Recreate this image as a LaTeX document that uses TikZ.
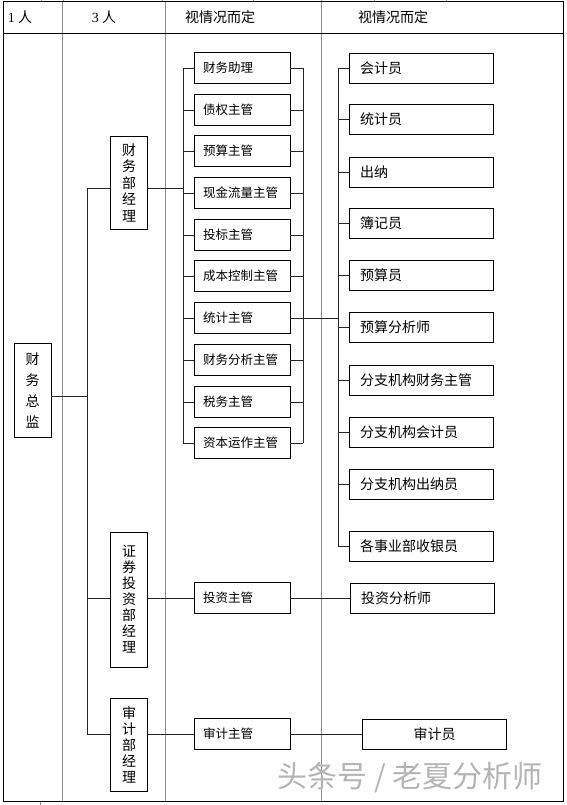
\documentclass[tikz,border=0pt]{standalone}
\usepackage{fontspec}
\setmainfont{Noto Sans CJK SC}
\newfontfamily\numfont{Liberation Serif}
\usepackage{xcolor}
\definecolor{rule}{HTML}{8C8C8C}
\definecolor{wmgray}{HTML}{B4B4B4}

\begin{document}
\begin{tikzpicture}[x=1pt, y=-1pt,
  mgr/.style={draw, line width=0.9pt, fill=white, minimum width=37pt, inner sep=0pt, align=center, font=\fontsize{14}{#1}\selectfont},
  midbox/.style={draw, line width=0.9pt, fill=white, text width=78pt, inner xsep=9pt, inner ysep=0pt, minimum height=31pt, align=left, font=\fontsize{12.5}{14}\selectfont},
  rbox/.style={draw, line width=0.9pt, fill=white, text width=122pt, inner xsep=11pt, inner ysep=0pt, minimum height=30pt, align=left, font=\fontsize{14}{16}\selectfont},
  hd/.style={font=\fontsize{14}{16}\selectfont, inner sep=0pt},
  ln/.style={line width=0.9pt, black!85},
  colln/.style={line width=0.9pt, rule},
  frame/.style={line width=1pt, black}
]
  \useasboundingbox (0,0) rectangle (566,805);
  % table
  \foreach \x in {62,165,321} \draw[colln] (\x,2) -- (\x,801);
  \foreach \x in {41,63,162,253,321,374,446} \draw[colln] (\x,0) -- (\x,2);
  \draw[colln] (40,801) -- (40,805);
  \draw[frame] (3,2) rectangle (563,801);
  \draw[frame] (3,34) -- (563,34);
  \node[hd] (h1) at (20,17) {{\numfont 1} 人};
  \node[hd] (h2) at (104,17) {{\numfont 3} 人};
  \node[hd] (h3) at (220,17) {视情况而定};
  \node[hd] (h4) at (393,17) {视情况而定};

  % managers
  \node[mgr=21, minimum height=94pt] (cfo) at (32.5,390) {财\\务\\总\\监};
  \node[mgr=16.5, minimum height=93pt] (cwjl) at (129,182.5) {财\\务\\部\\经\\理};
  \node[mgr=16, minimum height=135pt] (zqjl) at (129,599.5) {证\\券\\投\\资\\部\\经\\理};
  \node[mgr=16, minimum height=93pt] (sjjl) at (129,744.5) {审\\计\\部\\经\\理};

  % supervisors
  \node[midbox] (zhuli) at (242,68) {财务助理};
  \node[midbox] (zhaiquan) at (242,110) {债权主管};
  \node[midbox] (yusuan) at (242,151) {预算主管};
  \node[midbox] (xianjin) at (242,193) {现金流量主管};
  \node[midbox] (toubiao) at (242,235) {投标主管};
  \node[midbox] (chengben) at (242,276) {成本控制主管};
  \node[midbox] (tongji) at (242,318) {统计主管};
  \node[midbox] (fenxi) at (242,360) {财务分析主管};
  \node[midbox] (shuiwu) at (242,402) {税务主管};
  \node[midbox] (ziben) at (242,443) {资本运作主管};
  \node[midbox] (tzzg) at (242,598) {投资主管};
  \node[midbox] (sjzg) at (242,734) {审计主管};

  % staff
  \node[rbox] (kuaiji) at (421,68) {会计员};
  \node[rbox] (tongjiyuan) at (421,119) {统计员};
  \node[rbox] (chuna) at (421,172) {出纳};
  \node[rbox] (buji) at (421,223) {簿记员};
  \node[rbox] (yusuanyuan) at (421,275) {预算员};
  \node[rbox] (ysfenxi) at (421,327) {预算分析师};
  \node[rbox] (fzzhuguan) at (421,380) {分支机构财务主管};
  \node[rbox] (fzkuaiji) at (421,432) {分支机构会计员};
  \node[rbox] (fzchuna) at (421,484) {分支机构出纳员};
  \node[rbox] (shouyin) at (421,546) {各事业部收银员};
  \node[rbox] (tzfx) at (422,598) {投资分析师};
  \node[rbox, align=center] (sjy) at (434.5,734) {审计员};

  % connectors
  \coordinate (tk1) at (87,188);
  \coordinate (tk2) at (87,734);
  \coordinate (tkc) at (87,396);
  \coordinate (lb) at (183,0);
  \coordinate (rb) at (303,0);
  \coordinate (kb) at (338,0);
  \draw[ln] (tk1) -- (tk2);
  \draw[ln] (tkc -| cfo.east) -- (tkc);
  \draw[ln] (tk1) -- (tk1 -| cwjl.west);
  \draw[ln] (tk1 -| cwjl.east) -- (tk1 -| lb);
  \draw[ln] (lb |- zhuli) -- (lb |- ziben);
  \draw[ln] (rb |- zhuli) -- (rb |- ziben);
  \foreach \s in {zhuli,zhaiquan,yusuan,xianjin,toubiao,chengben,tongji,fenxi,shuiwu,ziben}
    \draw[ln] (lb |- \s) -- (\s.west);
  \foreach \s in {zhuli,zhaiquan,yusuan,xianjin,toubiao,chengben,fenxi,shuiwu,ziben}
    \draw[ln] (\s.east) -- (rb |- \s);
  \draw[ln] (tongji.east) -- (kb |- tongji);
  \draw[ln] (kb |- kuaiji) -- (kb |- shouyin);
  \foreach \r in {kuaiji,tongjiyuan,chuna,buji,yusuanyuan,ysfenxi,fzzhuguan,fzkuaiji,fzchuna,shouyin}
    \draw[ln] (kb |- \r) -- (\r.west);
  \draw[ln] (tk1 |- tzzg) -- (tzzg -| zqjl.west);
  \draw[ln] (tzzg -| zqjl.east) -- (tzzg.west);
  \draw[ln] (tzzg.east) -- (tzfx.west);
  \draw[ln] (tk2) -- (tk2 -| sjjl.west);
  \draw[ln] (tk2 -| sjjl.east) -- (sjzg.west);
  \draw[ln] (sjzg.east) -- (sjy.west);

  % watermark
  \node[font=\fontsize{30}{32}\selectfont, text=wmgray, inner sep=0pt] (wmark) at (410,778) {头条号 / 老夏分析师};
\end{tikzpicture}
\end{document}
